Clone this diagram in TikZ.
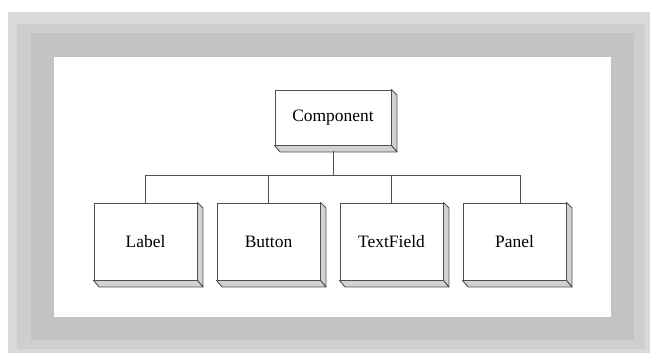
\documentclass[tikz,border=0pt]{standalone}
\usepackage{fontspec}
\setmainfont{Liberation Serif}
\definecolor{frameA}{HTML}{D9D9D9}
\definecolor{frameB}{HTML}{CECECE}
\definecolor{frameC}{HTML}{C3C3C3}
\definecolor{edge}{HTML}{505050}
\definecolor{side}{HTML}{D2D2D2}
\tikzset{
  cls/.style={draw=edge, line width=0.9bp, fill=white, inner sep=0pt,
    font=\fontsize{17.5}{20}\selectfont, text=black},
  topbox/.style={cls, minimum width=116bp, minimum height=55bp},
  subbox/.style={cls, minimum width=103bp, minimum height=77bp},
  link/.style={draw=edge, line width=0.9bp},
  depth/.style={draw=edge, line width=0.9bp, fill=side, line join=round}
}
\newcommand{\extrude}[1]{%
  \path[depth] (#1.north east) -- ++(5.5bp,-5.5bp) -- ([shift={(5.5bp,-6.5bp)}]#1.south east) -- (#1.south east) -- cycle;
  \path[depth] (#1.south west) -- ++(5.5bp,-6.5bp) -- ([shift={(5.5bp,-6.5bp)}]#1.south east) -- (#1.south east) -- cycle;
}
\begin{document}
\begin{tikzpicture}[x=1bp,y=-1bp]
\useasboundingbox (0,0) rectangle (650,353);
\fill[white] (0,0) rectangle (650,353);
\fill[frameA] (8,12) rectangle (650,353);
\fill[frameB] (17,24) rectangle (645,349);
\fill[frameC] (31,33) rectangle (634,340);
\fill[white] (54,57) rectangle (611,317);

\node[topbox] (comp) at (333,117.5) {Component};
\node[subbox] (label) at (145.5,241.5) {Label};
\node[subbox] (button) at (268.5,241.5) {Button};
\node[subbox] (text) at (391.5,241.5) {TextField};
\node[subbox] (panel) at (514.5,241.5) {Panel};
\extrude{comp}
\extrude{label}
\extrude{button}
\extrude{text}
\extrude{panel}

\coordinate (bar) at (333,175);
\draw[link] ([yshift=-6bp]comp.south) -- (bar);
\draw[link] (label.north) |- (bar);
\draw[link] ([xshift=5.5bp]panel.north) |- (bar);
\draw[link] (button.north) -- (button.north |- bar);
\draw[link] (text.north) -- (text.north |- bar);
\end{tikzpicture}
\end{document}
